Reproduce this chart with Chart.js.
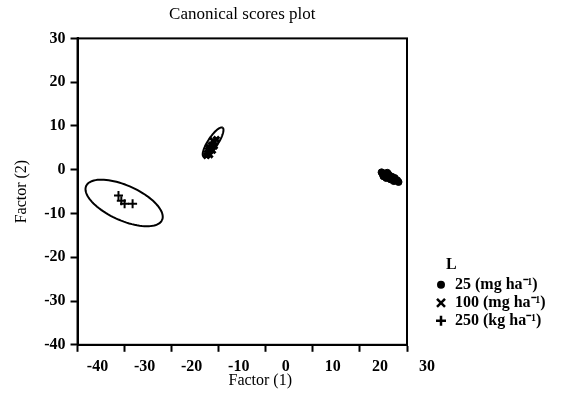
<!DOCTYPE html>
<html>
<head>
<meta charset="utf-8">
<script src="https://cdn.jsdelivr.net/npm/chart.js@4/dist/chart.umd.min.js"></script>
<style>
  html, body { margin: 0; padding: 0; background: #fff; }
  #wrap { width: 575px; height: 400px; }
</style>
</head>
<body>
<div id="wrap"><canvas id="scores"></canvas></div>
<script>
'use strict'

// group names shown in the legend
const legendTitle = 'L';
const groupLabels = ['25 (mg ha\u207B\u00B9)', '100 (mg ha\u207B\u00B9)', '250 (kg ha\u207B\u00B9)'];
const groupStyles = ['circle', 'crossRot', 'cross'];

// 25 mg ha-1 scores (filled dots)
const dotX = [24.6, 25.2, 25.8, 25.0, 26.2, 26.8, 27.4, 27.9, 26.5, 27.2, 25.6, 28.2, 24.9, 26.0];
const dotY = [-0.6, -0.9, -0.7, -1.5, -1.3, -1.6, -1.9, -2.4, -2.2, -2.6, -1.9, -2.8, -1.1, -1.0];

// 100 mg ha-1 scores (crosses)
const crossX = [-12.4, -11.9, -12.0, -11.3, -11.6, -10.9, -11.2, -10.5, -12.6, -12.2];
const crossY = [3.8, 3.4, 4.6, 4.4, 5.6, 5.4, 6.6, 6.9, 3.2, 5.2];

// 250 kg ha-1 scores (plus signs)
const plusX = [-31.3, -30.7, -30.0, -28.3];
const plusY = [-5.9, -7.1, -7.8, -7.8];

// confidence ellipses: centre and two half-axis vectors, all in score units
const ellipses = [
    { cx: -30.1, cy: -7.6, ux: 8.07, uy: -3.88, vx: -1.49, vy: -3.65 },
    { cx: -11.2, cy: 6.3, ux: 2.02, uy: 3.31, vx: 0.89, vy: -0.62 }
];

const serif = 'Liberation Serif, Times New Roman, serif';

function toPoints(xs, ys) {
    return xs.map((x, i) => ({ x: x, y: ys[i] }));
}

function marker(ctx, style, x, y) {
    ctx.beginPath();
    if (style === 'circle') {
        ctx.arc(x, y, 4, 0, Math.PI * 2);
        ctx.fill();
        return;
    }
    ctx.lineWidth = 2.5;
    if (style === 'crossRot') {
        ctx.moveTo(x - 4, y - 4); ctx.lineTo(x + 4, y + 4);
        ctx.moveTo(x + 4, y - 4); ctx.lineTo(x - 4, y + 4);
    } else {
        ctx.moveTo(x - 5, y); ctx.lineTo(x + 5, y);
        ctx.moveTo(x, y - 5); ctx.lineTo(x, y + 5);
    }
    ctx.stroke();
}

// draws the ellipses, the box round the plot, the x title and the legend
const extras = {
    id: 'extras',
    afterDatasetsDraw(chart) {
        const ctx = chart.ctx;
        const xs = chart.scales.x;
        const ys = chart.scales.y;
        const a = chart.chartArea;
        ctx.save();
        ctx.strokeStyle = '#000';
        ctx.fillStyle = '#000';
        ctx.lineWidth = 2;
        ellipses.forEach(e => {
            ctx.beginPath();
            for (let k = 0; k <= 90; k++) {
                const t = k / 90 * Math.PI * 2;
                const px = xs.getPixelForValue(e.cx + e.ux * Math.cos(t) + e.vx * Math.sin(t));
                const py = ys.getPixelForValue(e.cy + e.uy * Math.cos(t) + e.vy * Math.sin(t));
                if (k === 0) ctx.moveTo(px, py); else ctx.lineTo(px, py);
            }
            ctx.stroke();
        });
        ctx.strokeRect(a.left, a.top, a.right - a.left, a.bottom - a.top);

        // x axis title sits under the (shifted) tick labels
        ctx.textAlign = 'center';
        ctx.textBaseline = 'middle';
        ctx.font = '16px ' + serif;
        ctx.fillText('Factor (1)', (a.left + a.right) / 2 + 18, a.bottom + 36);

        // legend
        ctx.font = 'bold 16px ' + serif;
        ctx.textAlign = 'left';
        ctx.fillText(legendTitle, a.right + 39, a.bottom - 80);
        groupLabels.forEach((label, i) => {
            const y = a.bottom - 60 + i * 18;
            marker(ctx, groupStyles[i], a.right + 34, y);
            ctx.fillText(label, a.right + 48, y);
        });
        ctx.restore();
    }
};

new Chart(document.getElementById('scores'), {
    type: 'scatter',
    data: {
        datasets: [{
            label: groupLabels[0],
            data: toPoints(dotX, dotY),
            pointStyle: groupStyles[0],
            pointRadius: 3.5,
            backgroundColor: '#000',
            borderColor: '#000',
            borderWidth: 1
        }, {
            label: groupLabels[1],
            data: toPoints(crossX, crossY),
            pointStyle: groupStyles[1],
            pointRadius: 4,
            backgroundColor: '#000',
            borderColor: '#000',
            borderWidth: 3
        }, {
            label: groupLabels[2],
            data: toPoints(plusX, plusY),
            pointStyle: groupStyles[2],
            pointRadius: 4.5,
            backgroundColor: '#000',
            borderColor: '#000',
            borderWidth: 2
        }]
    },
    options: {
        responsive: true,
        maintainAspectRatio: false,
        animation: false,
        layout: { padding: { top: 4, left: 12, right: 168, bottom: 19 } },
        plugins: {
            title: {
                display: true,
                fullSize: false,
                text: 'Canonical scores plot',
                color: '#000',
                font: { family: serif, size: 17, weight: 'normal' },
                padding: { top: 0, bottom: 14 }
            },
            legend: { display: false },
            tooltip: { enabled: false }
        },
        scales: {
            x: {
                type: 'linear',
                min: -40,
                max: 30,
                border: { color: '#000', width: 2 },
                grid: { drawOnChartArea: false, drawTicks: true, tickLength: 7, tickColor: '#000', tickWidth: 2 },
                ticks: {
                    stepSize: 10,
                    color: '#000',
                    labelOffset: 20,
                    padding: 5,
                    maxRotation: 0,
                    font: { family: serif, size: 16, weight: 'bold' }
                }
            },
            y: {
                type: 'linear',
                min: -40,
                max: 30,
                border: { color: '#000', width: 2 },
                grid: { drawOnChartArea: false, drawTicks: true, tickLength: 7, tickColor: '#000', tickWidth: 2 },
                ticks: {
                    stepSize: 10,
                    color: '#000',
                    padding: 5,
                    font: { family: serif, size: 16, weight: 'bold' }
                },
                title: {
                    display: true,
                    text: 'Factor (2)',
                    color: '#000',
                    font: { family: serif, size: 16 },
                    padding: { top: 0, bottom: 8 }
                }
            }
        }
    },
    plugins: [extras]
});
</script>
</body>
</html>
